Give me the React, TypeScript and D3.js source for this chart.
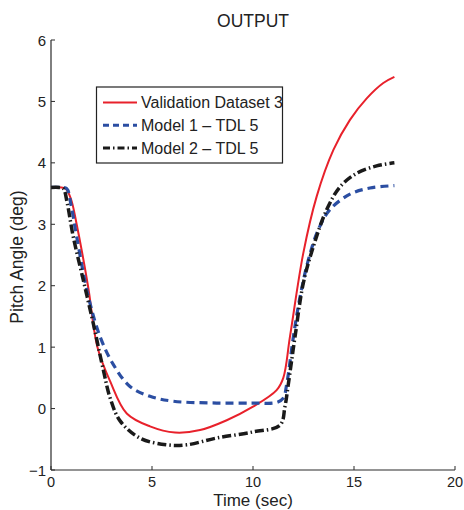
import React from "react";
import * as d3 from "d3";

const xTicks = [0, 5, 10, 15, 20];
const yTicks = [-1, 0, 1, 2, 3, 4, 5, 6];

const redT = [0, 0.5, 0.75, 1.0, 1.27, 1.83, 2.3, 2.92, 3.75, 4.9, 6.14, 7.38, 8.7, 10.0, 11.17, 11.5, 11.83, 12.49, 13.15, 13.98, 14.8, 15.63, 16.45, 17.0];
const redV = [3.6, 3.6, 3.57, 3.4, 3.0, 2.0, 1.0, 0.45, -0.08, -0.29, -0.39, -0.35, -0.19, 0.03, 0.3, 0.5, 1.17, 2.53, 3.45, 4.21, 4.7, 5.05, 5.3, 5.4];

const blueT = [0, 0.5, 0.78, 1.0, 1.27, 1.85, 2.43, 3.08, 3.91, 4.9, 6.05, 8.2, 10.0, 11.17, 11.5, 11.67, 12.0, 12.33, 12.74, 13.23, 13.81, 14.8, 15.79, 17.0];
const blueV = [3.6, 3.6, 3.58, 3.3, 2.8, 1.82, 1.17, 0.72, 0.36, 0.2, 0.12, 0.09, 0.09, 0.1, 0.17, 0.4, 1.17, 1.82, 2.42, 2.91, 3.24, 3.49, 3.59, 3.63];

const blackT = [0, 0.4, 0.61, 0.8, 1.1, 1.6, 2.09, 2.59, 2.92, 3.42, 4.4, 5.73, 6.72, 8.2, 10.0, 11.34, 11.58, 11.75, 12.08, 12.49, 12.99, 13.65, 14.31, 15.13, 16.12, 17.0];
const blackV = [3.6, 3.6, 3.58, 3.35, 2.8, 2.09, 1.39, 0.63, 0.18, -0.2, -0.48, -0.59, -0.59, -0.48, -0.38, -0.27, 0.03, 0.4, 1.17, 2.04, 2.64, 3.24, 3.61, 3.83, 3.95, 4.0];

const legendLabels = ["Validation Dataset 3", "Model 1 \u2013 TDL 5", "Model 2 \u2013 TDL 5"];

const W = 464, H = 510;
const x = d3.scaleLinear().domain([0, 20]).range([51, 455]);
const y = d3.scaleLinear().domain([-1, 6]).range([470, 40]);

const FONT = "'Liberation Sans', Arial, Helvetica, sans-serif";

function mk(ts: number[], vs: number[]) {
  const pts = ts.map((t, i) => [t, vs[i]] as [number, number]);
  return d3.line<[number, number]>().x(d => x(d[0])).y(d => y(d[1])).curve(d3.curveCatmullRom.alpha(0.5))(pts) || "";
}

const series = [
  { d: mk(redT, redV), color: "#e8212b", width: 2, dash: undefined as string | undefined },
  { d: mk(blueT, blueV), color: "#2b4ea2", width: 3.2, dash: "8,5" },
  { d: mk(blackT, blackV), color: "#1a1a1a", width: 3.5, dash: "9,3,1.5,3" },
];

export default function App() {
  const axisColor = "#2a2a2a";
  return (
    <svg width={W} height={H} style={{ position: "absolute", left: 0, top: 0, background: "#fff" }} fontFamily={FONT}>
      <text x={253} y={27} fontSize={17.5} textAnchor="middle" fill="#222">OUTPUT</text>
      {series.map((s, i) => (
        <path key={i} d={s.d} fill="none" stroke={s.color} strokeWidth={s.width} strokeDasharray={s.dash} />
      ))}
      <line x1={x(0)} x2={x(0)} y1={y(6)} y2={y(-1)} stroke={axisColor} strokeWidth={1.2} />
      <line x1={x(0)} x2={x(20)} y1={y(-1)} y2={y(-1)} stroke={axisColor} strokeWidth={1.2} />
      {yTicks.map(t => (
        <g key={"y" + t}>
          <line x1={x(0)} x2={x(0) + 4} y1={y(t)} y2={y(t)} stroke={axisColor} strokeWidth={1} />
          <text x={46} y={y(t) + 5.5} fontSize={15} textAnchor="end" fill="#222">{t < 0 ? "\u2212" + Math.abs(t) : t}</text>
        </g>
      ))}
      {xTicks.map(t => (
        <g key={"x" + t}>
          <line x1={x(t)} x2={x(t)} y1={y(-1)} y2={y(-1) - 4} stroke={axisColor} strokeWidth={1} />
          <text x={x(t)} y={487} fontSize={14.5} textAnchor="middle" fill="#222">{t}</text>
        </g>
      ))}
      <text x={253} y={506} fontSize={17} textAnchor="middle" fill="#222">Time (sec)</text>
      <text transform={`translate(23,257) rotate(-90)`} fontSize={17.5} textAnchor="middle" fill="#222">Pitch Angle (deg)</text>
      <rect x={96.5} y={87} width={186} height={76} fill="#fff" stroke="#222" strokeWidth={1.2} />
      {legendLabels.map((l, i) => {
        const ly = 102.5 + i * 22.8;
        const s = series[i];
        return (
          <g key={l}>
            <line x1={103} x2={137} y1={ly} y2={ly} stroke={s.color} strokeWidth={i === 0 ? 2 : 3} strokeDasharray={i === 1 ? "6,4" : i === 2 ? "7,3,1.5,3" : undefined} />
            <text x={141} y={ly + 5.5} fontSize={16} fill="#222">{l}</text>
          </g>
        );
      })}
    </svg>
  );
}
